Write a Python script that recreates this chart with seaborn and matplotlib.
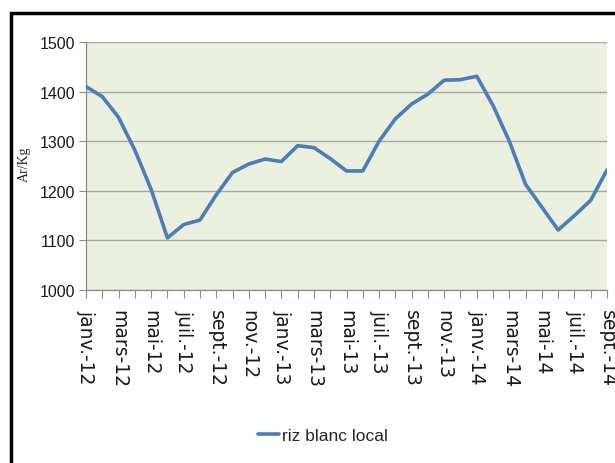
import pandas as pd
import seaborn as sns
import matplotlib.pyplot as plt
from matplotlib.patches import Rectangle

# monthly price of local white rice, Ar/Kg, janv. 2012 - sept. 2014
months = ["janv.", "févr.", "mars", "avr.", "mai", "juin",
          "juil.", "août", "sept.", "oct.", "nov.", "déc."]
month_labels = [f"{months[i % 12]}-{12 + i // 12}" for i in range(33)]
prices = [1410, 1390, 1348, 1282, 1203, 1105, 1132, 1141, 1192, 1237, 1254,
          1264, 1259, 1291, 1287, 1265, 1240, 1240, 1300, 1345, 1375, 1395,
          1423, 1424, 1431, 1372, 1300, 1213, 1167, 1121, 1150, 1181, 1242]
series_name = "riz blanc local"

df = pd.DataFrame({"idx": range(len(prices)), "Prix": prices,
                   "serie": series_name})

sns.set_theme(style="white")
plt.rcParams['font.family'] = ['Liberation Sans', 'DejaVu Sans']

fig = plt.figure(figsize=(6.15, 4.64), dpi=100)
ax = fig.add_axes([86 / 615, 1 - 291 / 464, (607 - 86) / 615, (291 - 43) / 464])
ax.set_facecolor("#EBF1DE")

sns.lineplot(data=df, x="idx", y="Prix", hue="serie", palette=["#4A7EBB"],
             linewidth=2.6, ax=ax, legend=False, zorder=3)

ax.set_xlim(0, len(prices) - 1)
ax.set_ylim(1000, 1500)
ax.set_yticks([1000, 1100, 1200, 1300, 1400, 1500])
ax.grid(axis="y", color="#A6A6A6", linewidth=1.0)
ax.set_axisbelow(True)

ax.set_xticks(range(len(prices)))
ax.set_xticklabels([lab if i % 2 == 0 else "" for i, lab in enumerate(month_labels)],
                   rotation=270, fontsize=13.5, color="#1a1a1a",
                   family=["DejaVu Sans"])
ax.tick_params(axis="x", length=6, width=0.8, color="#8C8C8C", pad=8, bottom=True)
ax.tick_params(axis="y", length=5, width=0.8, color="#8C8C8C", labelsize=11.5,
               labelcolor="#1a1a1a", left=True, pad=3)

for s in ["top", "right"]:
    ax.spines[s].set_visible(False)
for s in ["left", "bottom"]:
    ax.spines[s].set_color("#8C8C8C")
    ax.spines[s].set_linewidth(0.9)

ax.set_xlabel("")
ax.set_ylabel("Ar/Kg", fontsize=10, family=["Liberation Serif", "DejaVu Serif"])
ax.yaxis.set_label_coords(-0.106, 0.51)

# legend below the chart
handle = plt.Line2D([], [], color="#4A7EBB", linewidth=2.6)
fig.legend([handle], [series_name], loc="center", bbox_to_anchor=(0.525, 0.06),
           frameon=False, fontsize=12.5, handlelength=1.2, handletextpad=0.2)

# outer chart frame (cut off on the right and bottom like the source)
fig.patches.append(Rectangle((11 / 615, -0.05), 1.0, 1 - 14 / 464 + 0.05,
                             transform=fig.transFigure, fill=False,
                             edgecolor="black", linewidth=2.5))

fig.savefig("out.png", dpi=100)
